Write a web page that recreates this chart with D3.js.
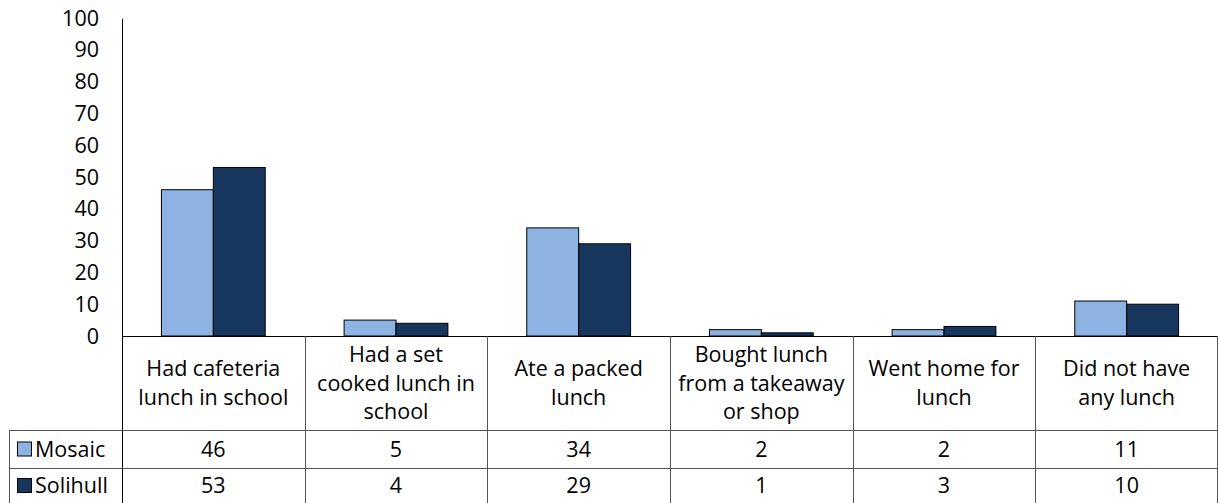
<!DOCTYPE html>
<html>
<head>
<meta charset="utf-8">
<script src="https://cdn.jsdelivr.net/npm/d3@7"></script>
<style>
  html, body { margin: 0; padding: 0; background: #fff; }
  svg { display: block; font-family: 'Open Sans', 'Lato', sans-serif; }
</style>
</head>
<body>
<div id="chart"></div>
<script>
const categories = [
  ['Had cafeteria', 'lunch in school'],
  ['Had a set', 'cooked lunch in', 'school'],
  ['Ate a packed', 'lunch'],
  ['Bought lunch', 'from a takeaway', 'or shop'],
  ['Went home for', 'lunch'],
  ['Did not have', 'any lunch']
];
const seriesNames = ['Mosaic', 'Solihull'];
const mosaic = [46, 5, 34, 2, 2, 11];
const solihull = [53, 4, 29, 1, 3, 10];
const yTicks = [0, 10, 20, 30, 40, 50, 60, 70, 80, 90, 100];
const colors = ['#8db3e2', '#17375e'];

const width = 1218, height = 503;
const plotLeft = 122, plotRight = 1218;
const plotTop = 18, plotBottom = 336;
const headerBottom = 430, row1Bottom = 468, tableBottom = 503;
const tableLeft = 9;
const lineColor = '#555';
const fontSize = 21.5;

const svg = d3.select('#chart').append('svg')
  .attr('width', width)
  .attr('height', height);

const x = d3.scaleBand()
  .domain(d3.range(categories.length))
  .range([plotLeft, plotRight])
  .paddingInner(0)
  .paddingOuter(0);

const inner = d3.scaleBand()
  .domain(d3.range(seriesNames.length))
  .range([0, x.bandwidth()])
  .paddingInner(0)
  .paddingOuter(0.76);

const y = d3.scaleLinear()
  .domain([0, 100])
  .range([plotBottom, plotTop]);

// y tick labels
svg.append('g')
  .selectAll('text')
  .data(yTicks)
  .join('text')
  .attr('x', 99)
  .attr('y', d => y(d))
  .attr('dy', '0.35em')
  .attr('text-anchor', 'end')
  .attr('font-size', fontSize)
  .attr('fill', '#000')
  .text(d => d);

// bars
const seriesData = [mosaic, solihull];
seriesData.forEach((vals, s) => {
  svg.append('g')
    .selectAll('rect')
    .data(vals)
    .join('rect')
    .attr('x', (d, i) => x(i) + inner(s))
    .attr('y', d => y(d))
    .attr('width', inner.bandwidth())
    .attr('height', d => y(0) - y(d))
    .attr('fill', colors[s])
    .attr('stroke', '#000')
    .attr('stroke-width', 1);
});

// table grid
const grid = svg.append('g').attr('shape-rendering', 'crispEdges');

// baseline / header top
grid.append('line')
  .attr('x1', plotLeft).attr('x2', plotRight)
  .attr('y1', plotBottom + 0.5).attr('y2', plotBottom + 0.5)
  .attr('stroke', '#000');

// row lines
[headerBottom, row1Bottom].forEach(yy => {
  grid.append('line')
    .attr('x1', tableLeft).attr('x2', plotRight)
    .attr('y1', yy + 0.5).attr('y2', yy + 0.5)
    .attr('stroke', lineColor);
});

// left column border
grid.append('line')
  .attr('x1', tableLeft + 0.5).attr('x2', tableLeft + 0.5)
  .attr('y1', headerBottom).attr('y2', tableBottom)
  .attr('stroke', lineColor);

// y axis line
grid.append('line')
  .attr('x1', plotLeft + 0.5).attr('x2', plotLeft + 0.5)
  .attr('y1', plotTop + 1).attr('y2', tableBottom)
  .attr('stroke', '#000');

// category column separators
grid.selectAll('.sep')
  .data(d3.range(1, categories.length + 1))
  .join('line')
  .attr('class', 'sep')
  .attr('x1', i => Math.min(x(i) ?? plotRight, plotRight - 1) + 0.5)
  .attr('x2', i => Math.min(x(i) ?? plotRight, plotRight - 1) + 0.5)
  .attr('y1', plotBottom)
  .attr('y2', tableBottom)
  .attr('stroke', lineColor);

// category labels
const lineH = 28.5;
const headerMid = (plotBottom + headerBottom) / 2;
svg.append('g')
  .selectAll('text')
  .data(categories)
  .join('text')
  .attr('text-anchor', 'middle')
  .attr('font-size', fontSize)
  .attr('fill', '#000')
  .each(function(lines, i) {
    const t = d3.select(this);
    const start = headerMid - (lines.length - 1) * lineH / 2;
    lines.forEach((ln, k) => {
      t.append('tspan')
        .attr('x', x(i) + x.bandwidth() / 2)
        .attr('y', start + k * lineH)
        .attr('dy', '0.35em')
        .text(ln);
    });
  });

// data rows
const rowMids = [(headerBottom + row1Bottom) / 2, (row1Bottom + tableBottom) / 2];
seriesData.forEach((vals, s) => {
  svg.append('g')
    .selectAll('text')
    .data(vals)
    .join('text')
    .attr('x', (d, i) => x(i) + x.bandwidth() / 2)
    .attr('y', rowMids[s])
    .attr('dy', '0.35em')
    .attr('text-anchor', 'middle')
    .attr('font-size', fontSize)
    .attr('fill', '#000')
    .text(d => d);

  // legend key + name
  svg.append('rect')
    .attr('x', 17.5)
    .attr('y', rowMids[s] - 7)
    .attr('width', 14)
    .attr('height', 14)
    .attr('fill', colors[s])
    .attr('stroke', '#000');
  svg.append('text')
    .attr('x', 35)
    .attr('y', rowMids[s])
    .attr('dy', '0.35em')
    .attr('font-size', fontSize)
    .attr('fill', '#000')
    .text(seriesNames[s]);
});
</script>
</body>
</html>
